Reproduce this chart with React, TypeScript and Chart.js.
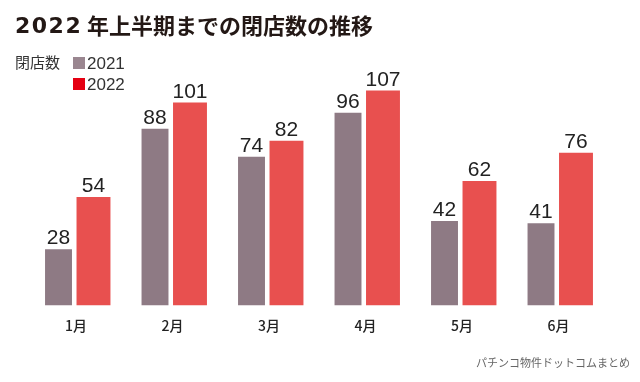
import React, { useEffect, useRef } from "react";
import { Chart, registerables } from "chart.js";

Chart.register(...registerables);

const TITLE_YEAR = "2022";
const TITLE_REST = "年上半期までの閉店数の推移";
const UNIT_LABEL = "閉店数";
const SOURCE = "パチンコ物件ドットコムまとめ";
const categories = ["1月", "2月", "3月", "4月", "5月", "6月"];
const seriesNames = ["2021", "2022"];
const values2021 = [28, 88, 74, 96, 42, 41];
const values2022 = [54, 101, 82, 107, 62, 76];

const BAR_COLORS = ["#8e7a84", "#e8504f"];
const LEGEND_COLORS = ["#9a8690", "#e50012"];
const CJK = '"Noto Sans CJK JP", "Noto Sans", sans-serif';
const LATIN = '"Liberation Sans", Arial, sans-serif';

const overlayPlugin = {
  id: "overlay",
  afterDatasetsDraw(chart: any) {
    const ctx = chart.ctx as CanvasRenderingContext2D;
    ctx.save();
    // value labels
    ctx.fillStyle = "#222";
    ctx.font = `21px ${LATIN}`;
    ctx.textAlign = "center";
    ctx.textBaseline = "alphabetic";
    chart.data.datasets.forEach((ds: any, di: number) => {
      const meta = chart.getDatasetMeta(di);
      meta.data.forEach((bar: any, i: number) => {
        ctx.fillText(String(ds.data[i]), bar.x, bar.y - 5);
      });
    });
    // title
    ctx.textAlign = "left";
    ctx.fillStyle = "#231815";
    ctx.font = `bold 22px "DejaVu Sans", sans-serif`;
    (ctx as any).letterSpacing = "1.5px";
    ctx.fillText(TITLE_YEAR, 15, 33);
    (ctx as any).letterSpacing = "0px";
    ctx.font = `bold 22px ${CJK}`;
    ctx.fillText(TITLE_REST, 87, 34);
    // legend
    ctx.fillStyle = "#333";
    ctx.font = `15px ${CJK}`;
    ctx.fillText(UNIT_LABEL, 15, 68);
    seriesNames.forEach((name, i) => {
      const y = 57 + i * 21;
      ctx.fillStyle = LEGEND_COLORS[i];
      ctx.fillRect(73, y, 12, 12);
      ctx.fillStyle = "#333";
      ctx.font = `17px ${LATIN}`;
      ctx.fillText(name, 87, y + 12);
    });
    // source
    ctx.textAlign = "right";
    ctx.fillStyle = "#666";
    ctx.font = `11px ${CJK}`;
    ctx.fillText(SOURCE, 630, 367);
    ctx.restore();
  },
};

export default function App() {
  const ref = useRef<HTMLCanvasElement | null>(null);
  useEffect(() => {
    if (!ref.current) return;
    const chart = new Chart(ref.current, {
      type: "bar",
      data: {
        labels: categories,
        datasets: [
          {
            label: seriesNames[0],
            data: values2021,
            backgroundColor: BAR_COLORS[0],
            barPercentage: 0.77,
            categoryPercentage: 0.725,
          },
          {
            label: seriesNames[1],
            data: values2022,
            backgroundColor: BAR_COLORS[1],
            barPercentage: 0.97,
            categoryPercentage: 0.725,
          },
        ],
      },
      options: {
        animation: false,
        responsive: false,
        maintainAspectRatio: false,
        layout: { padding: { left: 27.75, right: 33.25, top: 84.5, bottom: 35.7 } },
        plugins: {
          legend: { display: false },
          tooltip: { enabled: false },
          title: { display: false },
        },
        scales: {
          x: {
            grid: { display: false, drawTicks: false },
            border: { display: false },
            ticks: {
              padding: 12,
              color: "#222",
              font: { size: 14, family: CJK, weight: "500" },
            },
          },
          y: {
            display: false,
            min: 0,
            max: 110,
          },
        },
      },
      plugins: [overlayPlugin],
    });
    return () => chart.destroy();
  }, []);
  return (
    <div style={{ position: "absolute", left: 0, top: 0, width: 640, height: 382, background: "#fff" }}>
      <canvas ref={ref} width={640} height={382} style={{ width: 640, height: 382 }} />
    </div>
  );
}
